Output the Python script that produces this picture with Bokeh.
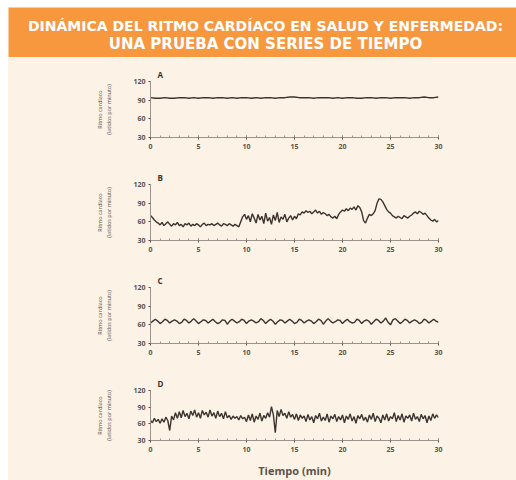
import numpy as np
from bokeh.plotting import figure
from bokeh.layouts import column
from bokeh.models import FixedTicker, SingleIntervalTicker, Range1d
from bokeh.core.properties import value
from bokeh.embed import file_html
from bokeh.resources import INLINE

# ---------------- data ----------------
title_lines = ["DINÁMICA DEL RITMO CARDÍACO EN SALUD Y ENFERMEDAD:",
               "UNA PRUEBA CON SERIES DE TIEMPO"]
panel_letters = ["A", "B", "C", "D"]
y_ticks = [30, 60, 90, 120]
x_label = "Tiempo (min)"
y_label = "Ritmo cardíaco\n(latidos por minuto)"

hr_a = [94, 93, 93, 94, 93, 93, 94, 94, 93, 94, 93, 94, 94, 93, 94, 94, 93, 94, 93, 94,
        94, 93, 94, 93, 94, 94, 93, 94, 94, 95, 95, 94, 94, 94, 93, 94, 94, 94, 93, 94,
        93, 94, 94, 93, 93, 94, 94, 93, 94, 94, 93, 94, 94, 94, 93, 94, 94, 95, 94, 94, 95]

hr_b = [70, 67, 63, 60, 58, 55, 59, 54, 57, 60, 56, 53, 57, 55, 59, 54, 56, 52, 57, 55,
        58, 53, 56, 54, 57, 55, 52, 56, 58, 54, 56, 55, 57, 54, 56, 58, 55, 53, 57, 56,
        54, 57, 55, 53, 56, 54, 52, 60, 68, 72, 64, 70, 60, 73, 66, 58, 72, 63, 69, 57,
        74, 61, 67, 56, 71, 62, 75, 59, 68, 64, 72, 60, 66, 70, 63, 69, 65, 73, 71, 76,
        74, 78, 75, 77, 73, 76, 79, 74, 77, 72, 75, 73, 70, 72, 68, 66, 69, 65, 72, 76,
        79, 77, 81, 78, 82, 80, 84, 79, 86, 83, 76, 62, 58, 66, 72, 70, 73, 78, 90, 97,
        96, 92, 86, 80, 76, 74, 70, 68, 66, 69, 67, 65, 70, 68, 66, 69, 71, 74, 76, 73,
        77, 75, 72, 74, 70, 66, 63, 61, 64, 60, 62]

hr_c = [63, 66, 69, 66, 62, 65, 69, 67, 63, 66, 68, 66, 62, 64, 69, 67, 63, 66, 70, 66,
        62, 65, 68, 67, 63, 66, 69, 65, 62, 64, 68, 67, 61, 66, 69, 66, 63, 65, 69, 67,
        62, 66, 68, 66, 63, 65, 70, 67, 62, 66, 69, 66, 61, 65, 68, 67, 63, 66, 69, 66,
        62, 64, 69, 67, 63, 66, 68, 66, 62, 65, 69, 67, 61, 66, 70, 66, 63, 65, 68, 67,
        62, 66, 69, 65, 63, 64, 69, 67, 62, 66, 68, 66, 61, 65, 69, 67, 63, 66, 71, 64,
        60, 68, 70, 66, 62, 65, 69, 67, 63, 66, 68, 66, 62, 64, 69, 67, 63, 66, 69, 66, 64]

hr_d = [66, 62, 70, 64, 68, 61, 69, 63, 72, 66, 48, 74, 67, 80, 70, 82, 71, 84, 73, 79,
        69, 83, 75, 85, 72, 80, 70, 84, 76, 81, 72, 85, 74, 80, 70, 83, 73, 79, 69, 82,
        71, 75, 68, 74, 70, 73, 67, 75, 69, 72, 64, 76, 66, 78, 63, 74, 68, 79, 65, 75,
        70, 80, 72, 91, 76, 44, 84, 73, 86, 75, 79, 70, 82, 72, 77, 68, 78, 66, 76, 70,
        74, 64, 77, 67, 73, 62, 75, 69, 79, 65, 72, 66, 78, 63, 74, 69, 77, 64, 73, 67,
        76, 62, 74, 68, 78, 65, 73, 61, 75, 69, 77, 66, 72, 63, 76, 68, 79, 64, 74, 70,
        62, 76, 67, 78, 65, 73, 69, 80, 64, 75, 67, 78, 63, 74, 70, 76, 65, 79, 68, 73,
        64, 77, 69, 75, 62, 74, 66, 78, 70, 76, 71]

series = [hr_a, hr_b, hr_c, hr_d]
t_start, t_end = 0, 30

# ---------------- style ----------------
CREAM = "#fdf2e6"
ORANGE = "#f7983f"
INK = "#3b3430"
AXIS = "#9c948c"
TICKLBL = "#5a524c"
W = 508
FRAME_L, FRAME_R = 142, 430
BANNER_H = 50

# ---------------- banner (its own root, so its frame is not aligned) ----------------
banner = figure(width=W, height=BANNER_H,
                x_range=Range1d(0, W), y_range=Range1d(0, BANNER_H),
                output_backend="svg", toolbar_location=None, min_border=0,
                background_fill_color=ORANGE, border_fill_color=ORANGE,
                outline_line_color=None, margin=(7, 0, 0, 8))
banner.axis.visible = False
banner.grid.visible = False
for txt, yy, fs in zip(title_lines, [32, 14], ["14px", "15px"]):
    banner.text(x=[257], y=[yy], text=[txt],
                text_font=value("DejaVu Sans"), text_font_style="bold",
                text_font_size=fs, text_color="white",
                text_align="center", text_baseline="middle")

# ---------------- panels ----------------
panels = []
for i, (letter, vals) in enumerate(zip(panel_letters, series)):
    last = i == len(series) - 1
    h = 114 if last else 103
    p = figure(width=W, height=h, x_range=Range1d(t_start, t_end),
               y_range=Range1d(y_ticks[0], y_ticks[-1]),
               output_backend="svg", toolbar_location=None,
               min_border_left=FRAME_L, min_border_right=W - FRAME_R,
               min_border_top=24, min_border_bottom=h - 80,
               background_fill_color=CREAM, border_fill_color=CREAM,
               outline_line_color=None, title=letter)
    p.title.text_font = "Open Sans"
    p.title.text_font_size = "8px"
    p.title.text_font_style = "bold"
    p.title.text_color = INK
    p.title.offset = 7
    p.title.standoff = 3
    p.grid.visible = False

    t = np.linspace(t_start, t_end, len(vals))
    p.line(t, vals, line_color=INK, line_width=1.4)

    xa = p.xaxis[0]
    xa.ticker = SingleIntervalTicker(interval=5, num_minor_ticks=5)
    xa.axis_line_color = AXIS
    xa.major_tick_line_color = TICKLBL
    xa.minor_tick_line_color = AXIS
    xa.major_tick_in = 2
    xa.major_tick_out = 2
    xa.minor_tick_in = 2
    xa.minor_tick_out = 0
    xa.major_label_text_font = "Open Sans"
    xa.major_label_text_font_size = "7px"
    xa.major_label_text_font_style = "bold"
    xa.major_label_text_color = TICKLBL
    xa.major_label_standoff = 4
    if last:
        xa.axis_label = x_label
        xa.axis_label_text_font = "Open Sans"
        xa.axis_label_text_font_size = "11px"
        xa.axis_label_text_font_style = "bold"
        xa.axis_label_text_color = TICKLBL
        xa.axis_label_standoff = 8

    ya = p.yaxis[0]
    ya.ticker = FixedTicker(ticks=y_ticks)
    ya.axis_line_color = AXIS
    ya.major_tick_line_color = TICKLBL
    ya.minor_tick_line_color = None
    ya.major_tick_in = 0
    ya.major_tick_out = 2
    ya.major_label_text_font = "Open Sans"
    ya.major_label_text_font_size = "7px"
    ya.major_label_text_font_style = "bold"
    ya.major_label_text_color = TICKLBL
    ya.major_label_standoff = 3
    ya.axis_label = y_label
    ya.axis_label_text_font = "Open Sans"
    ya.axis_label_text_font_size = "5.5px"
    ya.axis_label_text_font_style = "normal"
    ya.axis_label_text_color = TICKLBL
    ya.axis_label_standoff = 17
    panels.append(p)

body = column(*panels, spacing=0, margin=(0, 0, 0, 8),
              styles={"background-color": CREAM})
open("out.html", "w").write(file_html([banner, body], INLINE))
